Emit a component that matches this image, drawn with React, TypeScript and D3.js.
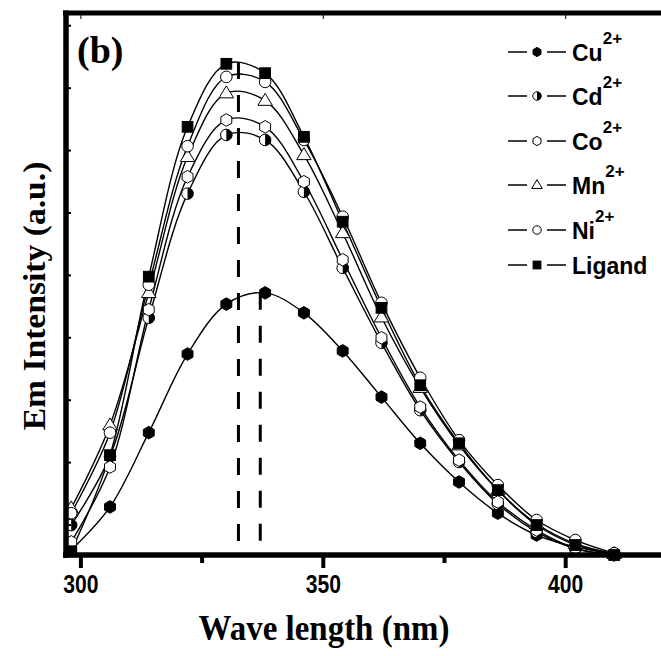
import React from 'react';
import * as d3 from 'd3';

const wavelengths = [298, 306, 314, 322, 330, 338, 346, 354, 362, 370, 378, 386, 394, 402, 410];
const cuValues = [8, 77, 196, 322, 402, 420, 388, 327, 253, 179, 117, 67, 32, 13, 2];
const cdValues = [48, 158, 380, 579, 673, 665, 582, 460, 340, 232, 149, 82, 37, 10, 0];
const coValues = [21, 141, 393, 606, 697, 686, 598, 473, 348, 237, 152, 85, 40, 11, 0];
const mnValues = [75, 208, 420, 638, 740, 728, 641, 516, 381, 268, 176, 104, 50, 18, 2];
const niValues = [67, 196, 433, 655, 766, 758, 665, 542, 404, 284, 184, 112, 56, 24, 3];
const ligandValues = [6, 160, 446, 686, 787, 772, 670, 534, 396, 272, 179, 104, 48, 16, 0];

const seriesNames = ['Cu', 'Cd', 'Co', 'Mn', 'Ni', 'Ligand'];
const seriesSup = ['2+', '2+', '2+', '2+', '2+', ''];
const seriesMarkers = ['hexFilled', 'halfCircle', 'hexOpen', 'triangle', 'circle', 'square'];

const xTickValues = [300, 350, 400];
const xTickLabels = ['300', '350', '400'];
const xMinorTickValues = [325, 375];
const yTickValues = [48, 148, 248, 348, 448, 548, 648, 748, 848];
const peakWavelengths = [332.5, 337];
const peakTops = [790, 420];

const W = 661;
const H = 656;

const xScale = d3.scaleLinear().domain([300, 400]).range([80.9, 565.7]);
const yScale = d3.scaleLinear().domain([0, 870]).range([555, 12]);

const SANS = '"Liberation Sans", Arial, Helvetica, sans-serif';
const SERIF = '"Liberation Serif", "Times New Roman", Times, serif';

function hexPath(cx: number, cy: number, r: number) {
  const pts = d3.range(6).map((i) => {
    const a = (Math.PI / 180) * (-90 + 60 * i);
    return [cx + r * Math.cos(a), cy + r * Math.sin(a)];
  });
  return 'M' + pts.map((p) => p.join(',')).join('L') + 'Z';
}

function Marker({ type, x, y, r }: { type: string; x: number; y: number; r: number }) {
  const sw = 1;
  switch (type) {
    case 'hexFilled':
      return <path d={hexPath(x, y, r)} fill="#000" stroke="#000" strokeWidth={sw} />;
    case 'hexOpen':
      return <path d={hexPath(x, y, r)} fill="#fff" stroke="#000" strokeWidth={sw} />;
    case 'halfCircle':
      return (
        <g>
          <circle cx={x} cy={y} r={r * 0.92} fill="#fff" stroke="#000" strokeWidth={sw} />
          <path d={`M${x},${y - r * 0.92} A${r * 0.92},${r * 0.92} 0 0 1 ${x},${y + r * 0.92} Z`} fill="#000" />
        </g>
      );
    case 'triangle': {
      const s = r * 1.15;
      return (
        <path
          d={`M${x},${y - s} L${x + s * 1.0},${y + s * 0.65} L${x - s * 1.0},${y + s * 0.65} Z`}
          fill="#fff"
          stroke="#000"
          strokeWidth={sw}
        />
      );
    }
    case 'circle':
      return <circle cx={x} cy={y} r={r * 0.92} fill="#fff" stroke="#000" strokeWidth={sw} />;
    case 'square': {
      const s = r * 0.85;
      return <rect x={x - s} y={y - s} width={2 * s} height={2 * s} fill="#000" stroke="#000" strokeWidth={sw} />;
    }
    default:
      return null;
  }
}

export default function App() {
  const allSeries = [cuValues, cdValues, coValues, mnValues, niValues, ligandValues];
  const line = d3
    .line<number>()
    .x((_, i) => xScale(wavelengths[i]))
    .y((d) => yScale(d))
    .curve(d3.curveCatmullRom.alpha(0.5));

  const axisY = yScale(0);
  const leftX = 66;
  const topY = 13;
  const legendRows = [52, 96, 141, 185, 230, 265];

  return (
    <svg
      width={W}
      height={H}
      style={{ position: 'absolute', left: 0, top: 0, background: '#fff' }}
      viewBox={`0 0 ${W} ${H}`}
    >
      <rect x={0} y={0} width={W} height={H} fill="#fff" />
      <defs>
        <clipPath id="plotclip">
          <rect x={leftX} y={topY} width={W - leftX} height={axisY - topY} />
        </clipPath>
      </defs>

      {/* dashed peak lines */}
      {peakWavelengths.map((p, i) => (
        <line
          key={'pk' + i}
          x1={xScale(p)}
          x2={xScale(p)}
          y1={yScale(peakTops[i])}
          y2={axisY - 3}
          stroke="#000"
          strokeWidth={3}
          strokeDasharray="17,16"
        />
      ))}

      {/* curves */}
      <g clipPath="url(#plotclip)">
        {allSeries.map((vals, si) => (
          <path key={'l' + si} d={line(vals) || ''} fill="none" stroke="#000" strokeWidth={1.4} />
        ))}
      </g>

      {/* markers */}
      {allSeries.map((vals, si) => (
        <g key={'m' + si}>
          {vals.map((v, i) => (
            <Marker key={i} type={seriesMarkers[si]} x={xScale(wavelengths[i])} y={yScale(v)} r={6.3} />
          ))}
        </g>
      ))}

      {/* frame */}
      <line x1={leftX - 3} x2={W} y1={topY} y2={topY} stroke="#000" strokeWidth={5} />
      <line x1={leftX} x2={leftX} y1={topY - 2.5} y2={axisY + 3} stroke="#000" strokeWidth={5.5} />
      <line x1={leftX - 3} x2={W} y1={axisY} y2={axisY} stroke="#000" strokeWidth={5.5} />

      {/* y ticks (inward, small) */}
      {yTickValues.map((t) => (
        <line key={'yt' + t} x1={leftX} x2={leftX + 5} y1={yScale(t)} y2={yScale(t)} stroke="#000" strokeWidth={2} />
      ))}

      {/* top ticks */}
      {xTickValues.map((t) => (
        <line key={'tt' + t} x1={xScale(t)} x2={xScale(t)} y1={topY} y2={topY + 6} stroke="#000" strokeWidth={1} />
      ))}

      {/* x ticks */}
      {xTickValues.map((t) => (
        <line key={'xt' + t} x1={xScale(t)} x2={xScale(t)} y1={axisY} y2={axisY + 13} stroke="#000" strokeWidth={4} />
      ))}
      {xMinorTickValues.map((t) => (
        <line key={'xm' + t} x1={xScale(t)} x2={xScale(t)} y1={axisY} y2={axisY + 8} stroke="#000" strokeWidth={4} />
      ))}
      {xTickValues.map((t, i) => (
        <text
          key={'xl' + t}
          transform={`translate(${xScale(t)},593) scale(0.88,1.05)`}
          textAnchor="middle"
          fontFamily={SANS}
          fontWeight="bold"
          fontSize={24}
          fill="#000"
        >
          {xTickLabels[i]}
        </text>
      ))}

      {/* axis titles */}
      <text
        transform="translate(324,640) scale(1.03,1.15)"
        textAnchor="middle"
        fontFamily={SERIF}
        fontWeight="bold"
        fontSize={32}
        fill="#000"
      >
        Wave length (nm)
      </text>
      <text
        transform="translate(45,296) rotate(-90) scale(1.05,1.0)"
        textAnchor="middle"
        fontFamily={SERIF}
        fontWeight="bold"
        fontSize={32}
        fill="#000"
      >
        Em Intensity (a.u.)
      </text>

      {/* panel label */}
      <text x={77} y={63} fontFamily={SERIF} fontWeight="bold" fontSize={38} fill="#000">
        (b)
      </text>

      {/* legend */}
      {seriesNames.map((name, i) => {
        const ly = legendRows[i];
        return (
          <g key={'lg' + name}>
            <line x1={508} x2={527} y1={ly} y2={ly} stroke="#000" strokeWidth={1.5} />
            <line x1={547} x2={566} y1={ly} y2={ly} stroke="#000" strokeWidth={1.5} />
            <Marker type={seriesMarkers[i]} x={537} y={ly} r={4.6} />
            <text x={572} y={ly + 9} fontFamily={SANS} fontWeight="bold" fontSize={23} fill="#000">
              {name}
              {seriesSup[i] ? (
                <tspan dy={-17} fontSize={17}>
                  {seriesSup[i]}
                </tspan>
              ) : null}
            </text>
          </g>
        );
      })}
    </svg>
  );
}
